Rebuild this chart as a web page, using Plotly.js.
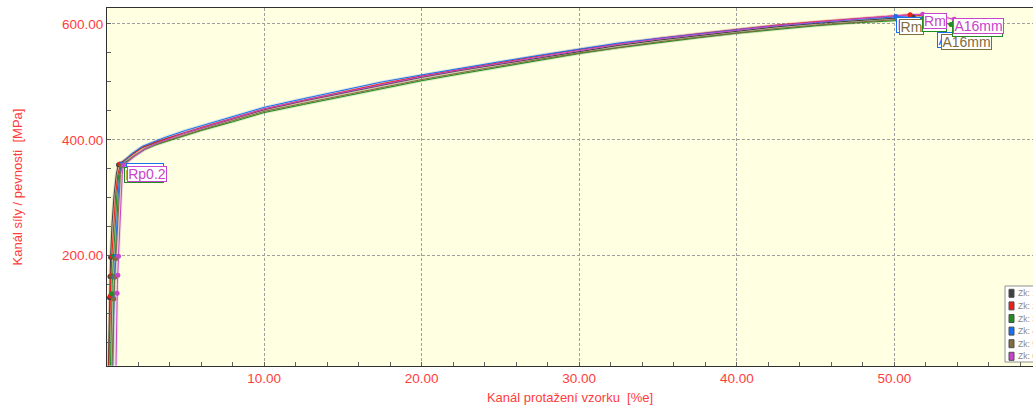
<!DOCTYPE html>
<html>
<head>
<meta charset="utf-8">
<script src="https://cdn.plot.ly/plotly-3.0.1.min.js"></script>
<style>html,body{margin:0;padding:0;background:#fff;}#chart{width:1033px;height:405px;}</style>
</head>
<body>
<div id="chart"></div>
<script>
// ---- data ----
const seriesNames = ["Zk: 1", "Zk: 2", "Zk: 3", "Zk: 4", "Zk: 5", "Zk: 6"];
const seriesColors = ["#404040", "#e8201a", "#228b22", "#1a6ff0", "#806c3c", "#c844c8"];

const x1 = [0.12,0.16,0.20,0.26,0.35,0.48,0.62,0.72,0.80,1.0,1.5,2.2,3.0,3.7,5.0,6.0,8.0,10.0,12.5,15.0,17.5,20.0,22.5,25.0,27.5,30.0,32.5,35.0,37.5,40.0,42.5,45.0,47.5,50.0,51.2,52.4,53.0];
const y1 = [10,80,150,200,255,305,340,354,358,362,373,386,394,401,412,420,436,452,467,481,495,508,520,531,542,553,563,572,580,588,595,601,606,610,612,609,603];
const x2 = [0.15,0.20,0.26,0.34,0.45,0.58,0.72,0.82,0.90,1.1,1.6,2.3,3.0,3.8,5.0,6.0,8.0,10.0,12.5,15.0,17.5,20.0,22.5,25.0,27.5,30.0,32.5,35.0,37.5,40.0,42.5,45.0,47.5,50.0,51.0,52.0,52.6];
const y2 = [10,80,150,200,255,305,340,354,359,363,374,387,395,402,413,421,437,453,468,483,497,510,522,533,545,556,566,575,583,591,598,604,609,614,616,614,609];
const x3 = [0.25,0.30,0.36,0.45,0.55,0.66,0.78,0.88,0.95,1.15,1.7,2.4,3.1,3.9,5.0,6.0,8.0,10.0,12.5,15.0,17.5,20.0,22.5,25.0,27.5,30.0,32.5,35.0,37.5,40.0,42.5,45.0,47.5,50.0,51.6,52.8,53.6];
const y3 = [10,80,150,200,255,305,340,352,356,360,371,383,391,398,408,416,431,447,461,475,489,502,514,526,538,549,559,568,576,584,591,597,602,606,608,604,599];
const x4 = [0.40,0.44,0.49,0.56,0.64,0.74,0.84,0.92,0.98,1.15,1.6,2.3,3.0,3.7,5.0,6.0,8.0,10.0,12.5,15.0,17.5,20.0,22.5,25.0,27.5,30.0,32.5,35.0,37.5,40.0,42.5,45.0,47.5,50.0,50.1,51.5,52.8];
const y4 = [10,80,150,200,255,305,340,355,359,364,376,389,397,404,416,424,440,456,471,486,500,512,524,535,546,557,567,575,583,590,597,603,608,612,613,611,605];
const x5 = [0.35,0.42,0.50,0.60,0.70,0.80,0.88,0.95,1.00,1.2,1.7,2.4,3.1,3.9,5.0,6.0,8.0,10.0,12.5,15.0,17.5,20.0,22.5,25.0,27.5,30.0,32.5,35.0,37.5,40.0,42.5,45.0,47.5,50.0,50.3,51.8,52.9];
const y5 = [10,80,150,200,255,305,340,352,356,360,371,384,392,399,409,417,433,449,463,477,491,504,516,528,539,550,560,569,577,585,592,598,603,607,608,605,598];
const x6 = [0.60,0.64,0.69,0.76,0.84,0.92,1.00,1.05,1.08,1.3,1.8,2.5,3.2,3.9,5.0,6.0,8.0,10.0,12.5,15.0,17.5,20.0,22.5,25.0,27.5,30.0,32.5,35.0,37.5,40.0,42.5,45.0,47.5,50.0,51.8,53.0,53.8];
const y6 = [10,80,150,200,255,305,340,352,356,361,372,385,394,401,412,420,437,453,468,482,496,509,521,532,544,555,565,574,582,590,597,603,609,614,617,613,608];

// marker points: three elastic points, Rp0.2, Rm, A16mm
const mx1 = [0.26,0.22,0.19,0.76,51.2,53.0], my1 = [197,164,127,357,612,603];
const mx2 = [0.34,0.29,0.24,0.85,51.0,52.6], my2 = [199,165,130,358,616,609];
const mx3 = [0.45,0.40,0.34,0.93,51.6,53.6], my3 = [199,164,134,356,608,599];
const mx4 = [0.56,0.50,0.45,0.97,50.1,52.8], my4 = [198,163,126,358,613,605];
const mx5 = [0.60,0.53,0.46,0.99,50.3,52.9], my5 = [195,163,125,356,608,598];
const mx6 = [0.76,0.72,0.67,1.07,51.8,53.8], my6 = [199,166,135,356,617,608];

const xTickVals = [10,20,30,40,50];
const xTickText = ["10.00","20.00","30.00","40.00","50.00"];
const yTickVals = [200,400,600];
const yTickText = ["200.00","400.00","600.00"];

// label boxes: [text, series index, x, y, width]
const labelBoxes = [
  ["Rp0.2", 3, 2.44, 345.5, 36],
  ["Rp0.2", 2, 2.35, 338.6, 38],
  ["Rp0.2", 5, 2.57, 340.4, 38],
  ["Rm", 3, 50.89, 598, 23],
  ["Rm", 4, 51.09, 594.5, 23],
  ["Rm", 2, 52.53, 600.5, 23],
  ["Rm", 5, 52.61, 605.4, 22],
  ["A16mm", 3, 54.31, 572.9, 49],
  ["A16mm", 4, 54.59, 569.7, 49],
  ["A16mm", 2, 55.30, 591.0, 49],
  ["A16mm", 5, 55.37, 596.7, 49]
];

// ---- build ----
const XS = [x1,x2,x3,x4,x5,x6], YS = [y1,y2,y3,y4,y5,y6];
const MX = [mx1,mx2,mx3,mx4,mx5,mx6], MY = [my1,my2,my3,my4,my5,my6];
const traces = [];
for (let i = 0; i < 6; i++) {
  traces.push({x: XS[i], y: YS[i], type: 'scatter', mode: 'lines', name: seriesNames[i] + ' halo',
    line: {color: seriesColors[i], width: 3}, opacity: 0.18, showlegend: false, hoverinfo: 'skip'});
}
for (let i = 0; i < 6; i++) {
  traces.push({x: XS[i], y: YS[i], type: 'scatter', mode: 'lines', name: seriesNames[i],
    line: {color: seriesColors[i], width: 1}, showlegend: false});
}
for (let i = 0; i < 6; i++) {
  traces.push({x: MX[i], y: MY[i], type: 'scatter', mode: 'markers', name: seriesNames[i] + ' pts',
    marker: {color: seriesColors[i], size: 5, symbol: 'circle'}, showlegend: false});
}

const annotations = labelBoxes.map(b => ({
  x: b[2], y: b[3], xref: 'x', yref: 'y', text: b[0], showarrow: false,
  font: {family: 'Liberation Sans, Arial, sans-serif', size: 14, color: seriesColors[b[1]]},
  bgcolor: '#ffffff', bordercolor: seriesColors[b[1]], borderwidth: 1, borderpad: 0,
  width: b[4], height: 14
}));

// legend (custom)
const L = 107, W = 926, B = 366, H = 358;
const px = v => (v - L) / W, py = v => (B - v) / H;
const shapes = [{type: 'rect', xref: 'paper', yref: 'paper', x0: px(1005), x1: px(1045), y0: py(362), y1: py(286),
  fillcolor: '#ffffff', line: {color: '#909090', width: 1}}];
for (let i = 0; i < 6; i++) {
  const c = 293.3 + 12.6 * i;
  shapes.push({type: 'rect', xref: 'paper', yref: 'paper', x0: px(1009), x1: px(1014), y0: py(c + 4), y1: py(c - 4),
    fillcolor: seriesColors[i], line: {color: '#505050', width: 1}});
  annotations.push({xref: 'paper', yref: 'paper', x: px(1016), y: py(c), xanchor: 'left', yanchor: 'middle',
    text: seriesNames[i], showarrow: false, font: {family: 'Liberation Sans, Arial, sans-serif', size: 8.5, color: '#8a8a8a'}});
}

const red = '#ff3c3c';
const layout = {
  width: 1033, height: 405,
  margin: {l: 107, r: 0, t: 8, b: 39},
  paper_bgcolor: '#ffffff', plot_bgcolor: '#ffffe1',
  showlegend: false, hovermode: false,
  font: {family: 'Liberation Sans, Arial, sans-serif'},
  xaxis: {
    range: [0.03, 58.8], tickvals: xTickVals, ticktext: xTickText,
    tickfont: {size: 13.5, color: red}, ticks: 'inside', ticklen: 4, tickcolor: '#606060',
    showgrid: true, gridcolor: '#a0a0a0', griddash: '3px,2px', gridwidth: 1,
    minor: {dtick: 2, tick0: 0, ticks: 'inside', ticklen: 4, tickcolor: '#606060', showgrid: false},
    showline: true, linecolor: '#303030', linewidth: 1, mirror: true, zeroline: false,
    title: {text: 'Kanál protažení vzorku  [%e]', font: {size: 13, color: red}, standoff: 8},
    automargin: false, fixedrange: true
  },
  yaxis: {
    range: [9.3, 627.6], tickvals: yTickVals, ticktext: yTickText,
    tickfont: {size: 13.5, color: red}, ticks: 'inside', ticklen: 4, tickcolor: '#606060',
    showgrid: true, gridcolor: '#a0a0a0', griddash: '3px,2px', gridwidth: 1,
    minor: {dtick: 50, tick0: 0, ticks: 'inside', ticklen: 4, tickcolor: '#606060', showgrid: false},
    showline: true, linecolor: '#303030', linewidth: 1, mirror: false, zeroline: false,
    title: {text: 'Kanál síly / pevnosti  [MPa]', font: {size: 13, color: red}, standoff: 36},
    automargin: false, fixedrange: true
  },
  annotations: annotations,
  shapes: shapes
};
Plotly.newPlot('chart', traces, layout, {displayModeBar: false, staticPlot: true});
</script>
</body>
</html>
